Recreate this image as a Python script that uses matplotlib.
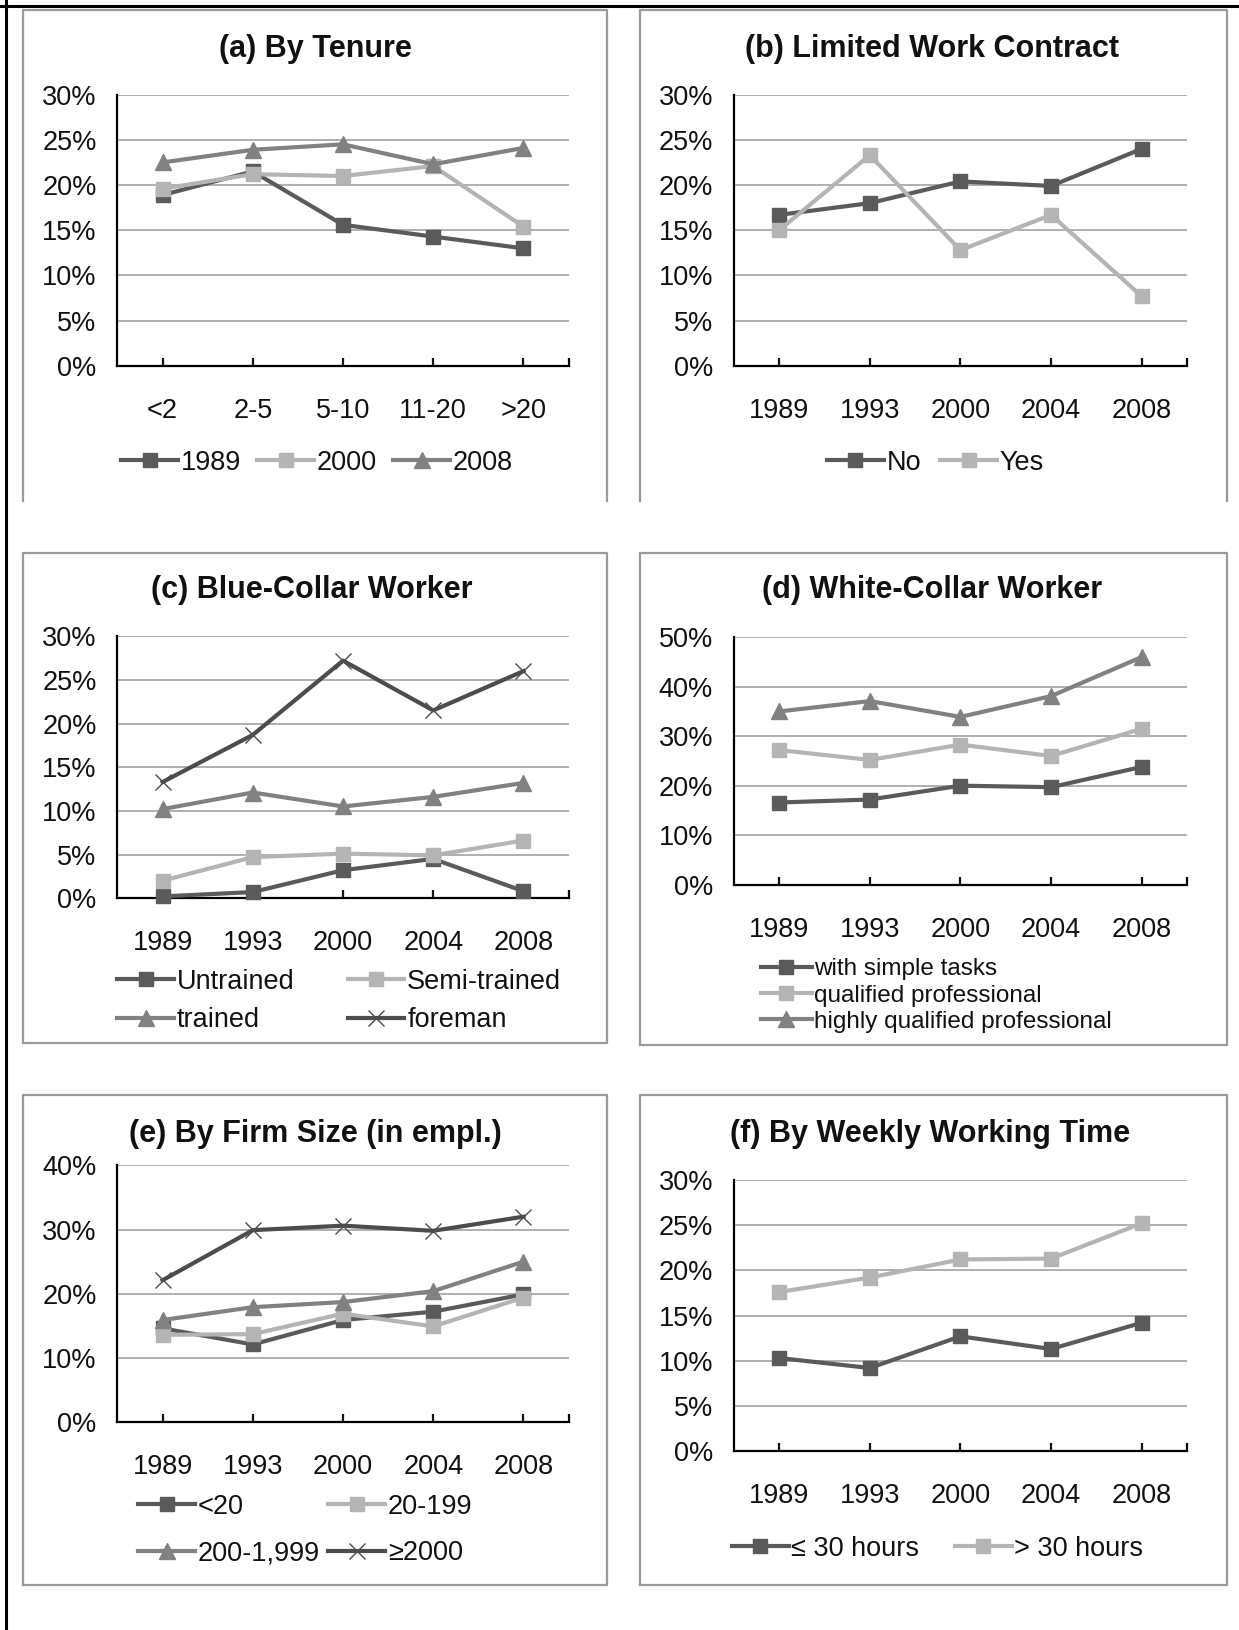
import matplotlib
matplotlib.use("Agg")
import matplotlib.pyplot as plt
from matplotlib.lines import Line2D
from matplotlib.ticker import PercentFormatter, MultipleLocator, FixedLocator

plt.rcParams['font.family'] = ['Liberation Sans', 'DejaVu Sans']

# ---- data (percent) ----
years = ['1989', '1993', '2000', '2004', '2008']
tenure_cats = ['<2', '2-5', '5-10', '11-20', '>20']

tenure_1989 = [18.9, 21.5, 15.6, 14.3, 13.0]
tenure_2000 = [19.6, 21.2, 21.0, 22.1, 15.4]
tenure_2008 = [22.5, 23.9, 24.5, 22.3, 24.1]

contract_no = [16.7, 18.0, 20.4, 19.9, 24.0]
contract_yes = [15.0, 23.3, 12.8, 16.7, 7.7]

blue_untrained = [0.2, 0.7, 3.2, 4.5, 0.8]
blue_semi = [2.0, 4.7, 5.1, 4.9, 6.6]
blue_trained = [10.2, 12.1, 10.5, 11.6, 13.2]
blue_foreman = [13.3, 18.7, 27.2, 21.5, 26.0]

white_simple = [16.6, 17.2, 20.0, 19.7, 23.8]
white_qualified = [27.2, 25.2, 28.3, 26.0, 31.5]
white_highly = [35.0, 37.1, 33.9, 38.1, 46.0]

firm_lt20 = [14.6, 12.1, 15.9, 17.2, 19.9]
firm_20_199 = [13.6, 13.7, 16.9, 14.9, 19.4]
firm_200_1999 = [15.9, 17.9, 18.7, 20.4, 25.0]
firm_ge2000 = [22.1, 29.9, 30.6, 29.8, 32.0]

hours_le30 = [10.3, 9.2, 12.7, 11.3, 14.2]
hours_gt30 = [17.6, 19.2, 21.2, 21.3, 25.2]

# ---- styles ----
DARK = dict(color='#5a5a5a', marker='s', ms=9.5, lw=3)
LIGHT = dict(color='#b4b4b4', marker='s', ms=9.5, lw=3)
MID = dict(color='#818181', marker='^', ms=11.5, lw=3)
CROSS = dict(color='#4c4c4c', marker='x', ms=12, mew=1.0, lw=3)

W, H = 1192.0, 1568.0  # layout measured on the reference


def fx(x):
    return x / W


def fy(y):
    return 1 - y / H


fig = plt.figure(figsize=(12.39, 16.30), dpi=100)

# outer frame (top and left)
fig.add_artist(Line2D([0, 1], [fy(6), fy(6)], color='black', lw=2.2, transform=fig.transFigure))
fig.add_artist(Line2D([fx(6), fx(6)], [0, 1], color='black', lw=2.2, transform=fig.transFigure))


def box(x0, y0, x1, y1, bottom=True):
    xs = [x0, x0, x1, x1]
    ys = [y1, y0, y0, y1]
    if bottom:
        xs.append(x0)
        ys.append(y1)
    fig.add_artist(Line2D([fx(v) for v in xs], [fy(v) for v in ys],
                          color='#9a9a9a', lw=1.6, transform=fig.transFigure))


def panel(left, right, top, bottom, cats, series, ymax, step, title, tx, ty):
    ax = fig.add_axes([fx(left), fy(bottom), fx(right) - fx(left), fy(top) - fy(bottom)])
    handles = []
    for vals, style in series:
        h, = ax.plot(cats, vals, clip_on=False, zorder=3, **style)
        handles.append(h)
    ax.set_xlim(-0.5, len(cats) - 0.5)
    ax.set_ylim(0, ymax)
    ax.yaxis.set_major_locator(MultipleLocator(step))
    ax.yaxis.set_major_formatter(PercentFormatter(xmax=100, decimals=0))
    ax.grid(axis='y', color='#9a9a9a', lw=1.1)
    ax.set_axisbelow(True)
    for s in ['top', 'right']:
        ax.spines[s].set_visible(False)
    for s in ['left', 'bottom']:
        ax.spines[s].set_linewidth(1.6)
        ax.spines[s].set_color('black')
    ax.tick_params(axis='y', length=0, pad=15, labelsize=19.5, colors='#111111')
    ax.tick_params(axis='x', direction='in', length=6, width=1.6, pad=23, labelsize=19.5,
                   colors='#111111')
    ax.xaxis.set_minor_locator(FixedLocator([len(cats) - 0.5]))
    ax.tick_params(axis='x', which='minor', direction='in', length=6, width=1.6)
    fig.text(fx(tx), fy(ty), title, ha='center', va='center', fontsize=22,
             fontweight='bold', color='#111111')
    return ax, handles


def legend(ax, handles, labels, x, y, loc, ncol=1, fs=19.5, colsp=0.7, rowsp=0.5):
    ax.legend(handles, labels, loc=loc, bbox_to_anchor=(fx(x), fy(y)),
              bbox_transform=fig.transFigure, frameon=False, ncol=ncol, fontsize=fs,
              handlelength=2.1, handletextpad=0.1, columnspacing=colsp,
              labelspacing=rowsp, borderpad=0, borderaxespad=0, labelcolor='#111111')


# (a)
box(22, 10, 584, 482, bottom=False)
ax, hs = panel(113, 547, 91, 352, tenure_cats,
               [(tenure_1989, DARK), (tenure_2000, LIGHT), (tenure_2008, MID)],
               30, 5, '(a) By Tenure', 303, 47)
legend(ax, hs, ['1989', '2000', '2008'], 305, 445, 'center', ncol=3, colsp=0.6)

# (b)
box(616, 10, 1180, 482, bottom=False)
ax, hs = panel(706, 1142, 91, 352, years,
               [(contract_no, DARK), (contract_yes, LIGHT)],
               30, 5, '(b) Limited Work Contract', 897, 47)
legend(ax, hs, ['No', 'Yes'], 900, 445, 'center', ncol=2)

# (c)  legend rows: Untrained, Semi-trained / trained, foreman
box(22, 532, 584, 1003)
ax, hs = panel(113, 547, 612, 864, years,
               [(blue_untrained, DARK), (blue_semi, LIGHT), (blue_trained, MID),
                (blue_foreman, CROSS)],
               30, 5, '(c) Blue-Collar Worker', 300, 568)
legend(ax, [hs[0], hs[2], hs[1], hs[3]], ['Untrained', 'trained', 'Semi-trained', 'foreman'],
       113, 932, 'upper left', ncol=2, colsp=1.95, rowsp=0.45)

# (d)
box(616, 532, 1180, 1005)
ax, hs = panel(706, 1142, 613, 851, years,
               [(white_simple, DARK), (white_qualified, LIGHT), (white_highly, MID)],
               50, 10, '(d) White-Collar Worker', 897, 568)
legend(ax, hs, ['with simple tasks', 'qualified professional',
                'highly qualified professional'], 732, 922, 'upper left', fs=17.5,
       rowsp=0.17)

# (e)  legend rows: <20, 20-199 / 200-1,999, >=2000
box(22, 1053, 584, 1525)
ax, hs = panel(113, 547, 1121, 1368, years,
               [(firm_lt20, DARK), (firm_20_199, LIGHT), (firm_200_1999, MID),
                (firm_ge2000, CROSS)],
               40, 10, '(e) By Firm Size (in empl.)', 303, 1091)
legend(ax, [hs[0], hs[2], hs[1], hs[3]], ['<20', '200-1,999', '20-199', '\u22652000'],
       133, 1437, 'upper left', ncol=2, colsp=0.3, rowsp=0.75)

# (f)
box(616, 1053, 1180, 1525)
ax, hs = panel(706, 1142, 1135, 1396, years,
               [(hours_le30, DARK), (hours_gt30, LIGHT)],
               30, 5, '(f) By Weekly Working Time', 895, 1091)
legend(ax, hs, ['\u2264 30 hours', '> 30 hours'], 902, 1490, 'center', ncol=2, colsp=1.3)

fig.savefig('out.png', dpi=100)
